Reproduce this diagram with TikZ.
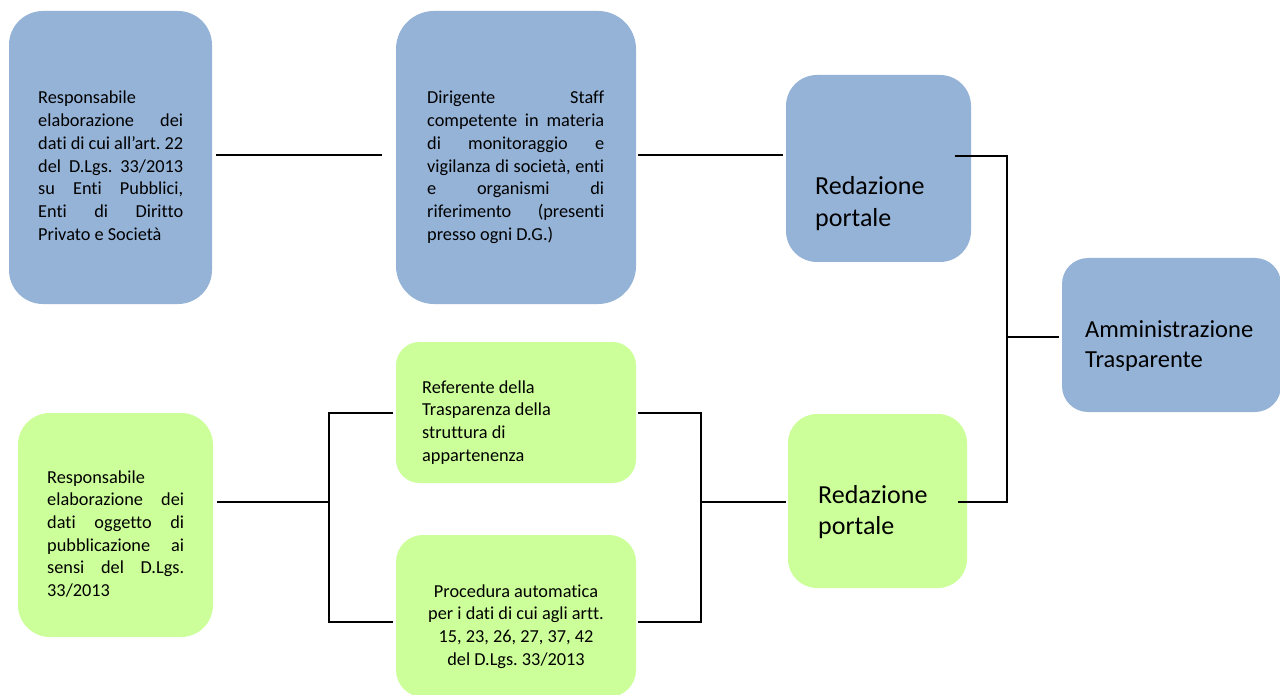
\documentclass[tikz,border=0pt]{standalone}
\usepackage{fontspec}
\setmainfont{Carlito}[Ligatures={NoCommon,NoContextual}]
\usetikzlibrary{calc}
\definecolor{boxblue}{HTML}{95B3D7}
\definecolor{boxgreen}{HTML}{CCFF99}
\newcommand\jl[2]{\makebox[#1][s]{#2}}
\frenchspacing
\begin{document}
\frenchspacing
\begin{tikzpicture}[x=1pt,y=-1pt,
  shapebox/.style={draw=none, inner sep=0pt, rectangle},
  bluebox/.style={shapebox, fill=boxblue},
  greenbox/.style={shapebox, fill=boxgreen},
  smalltxt/.style={inner sep=0pt, anchor=base west, font=\fontsize{18.3}{22.7}\selectfont},
  bigtxt/.style={inner sep=0pt, anchor=base west, font=\fontsize{26}{31.5}\selectfont},
  amtxt/.style={inner sep=0pt, anchor=base west, font=\fontsize{24.5}{30}\selectfont},
  conn/.style={draw=black, line width=1.5pt}
]
\useasboundingbox (0,0) rectangle (1280,695);
\clip (0,0) rectangle (1280,695);
\fill[white] (0,0) rectangle (1280,695);

% boxes
\node[bluebox, minimum width=203pt, minimum height=293pt, rounded corners=34pt] (b1) at (110.5,157.5) {};
\node[bluebox, minimum width=240pt, minimum height=293pt, rounded corners=38pt] (b2) at (516,157.5) {};
\node[bluebox, minimum width=185pt, minimum height=187pt, rounded corners=31pt] (r1) at (878.5,168.5) {};
\node[bluebox, minimum width=219pt, minimum height=154pt, rounded corners=26pt] (am) at (1171.5,335) {};
\node[greenbox, minimum width=195pt, minimum height=224pt, rounded corners=32pt] (gl) at (115.5,525) {};
\node[greenbox, minimum width=240pt, minimum height=141pt, rounded corners=23.5pt] (ref) at (516,412.5) {};
\node[greenbox, minimum width=240pt, minimum height=162pt, rounded corners=27pt] (proc) at (516,616) {};
\node[greenbox, minimum width=179pt, minimum height=174pt, rounded corners=29pt] (r2) at (877.5,501) {};

% texts
\node[smalltxt] (t1) at (38,104) {\parbox[t]{145pt}{\frenchspacing Responsabile\\
\jl{145pt}{elaborazione dei}\\
\jl{145pt}{dati di cui all’art. 22}\\
\jl{145pt}{del D.Lgs. 33/2013}\\
\jl{145pt}{su Enti Pubblici,}\\
\jl{145pt}{Enti di Diritto}\\
Privato e Società}};

\node[smalltxt] (t2) at (427,104) {\parbox[t]{177pt}{\frenchspacing\jl{177pt}{Dirigente Staff}\\
\jl{177pt}{competente in materia}\\
\jl{177pt}{di monitoraggio e}\\
\jl{177pt}{vigilanza di società, enti}\\
\jl{177pt}{e organismi di}\\
\jl{177pt}{riferimento (presenti}\\
presso ogni D.G.)}};

\node[smalltxt] (t3) at (47,483) {\parbox[t]{137pt}{\frenchspacing Responsabile\\
\jl{137pt}{elaborazione dei}\\
\jl{137pt}{dati oggetto di}\\
\jl{137pt}{pubblicazione ai}\\
\jl{137pt}{sensi del D.Lgs.}\\
33/2013}};

\node[smalltxt] (t4) at (422,393) {\parbox[t]{200pt}{Referente della\\
Trasparenza della\\
struttura di\\
appartenenza}};

\node[smalltxt, anchor=base] (t5) at (516,597) {\parbox[t]{230pt}{\frenchspacing\centering Procedura automatica\\
per i dati di cui agli artt.\\
15, 23, 26, 27, 37, 42\\
del D.Lgs. 33/2013}};

\node[bigtxt] (t6) at (815,195) {\parbox[t]{150pt}{Redazione\\portale}};
\node[bigtxt] (t7) at (818,503) {\parbox[t]{150pt}{Redazione\\portale}};
\node[amtxt] (t8) at (1085,337) {\parbox[t]{190pt}{Amministrazione\\Trasparente}};

% junctions
\coordinate (jL) at (329,502);
\coordinate (jM) at (701,502);
\coordinate (jR) at (1007,337);

% connectors
\draw[conn] ($(b1.east)+(4,-2.5)$) -- ($(b2.west)+(-14,-2.5)$);
\draw[conn] ($(b2.east)+(2,-2.5)$) -- ($(r1.west)+(-3,-13.5)$);
\draw[conn] ($(gl.east)+(4,-23)$) -- (jL);
\draw[conn] ($(ref.west)+(-3,0.5)$) -| (jL);
\draw[conn] ($(proc.west)+(-3,6)$) -| (jL);
\draw[conn] ($(ref.east)+(2,0.5)$) -| (jM);
\draw[conn] ($(proc.east)+(2,6)$) -| (jM);
\draw[conn] (jM) -- ($(r2.west)+(-2,1)$);
\draw[conn] ($(r1.east)+(-16,-12.5)$) -| (jR);
\draw[conn] ($(r2.east)+(-9,1)$) -| (jR);
\draw[conn] (jR) -- ($(am.west)+(-3,2)$);
\end{tikzpicture}
\end{document}
